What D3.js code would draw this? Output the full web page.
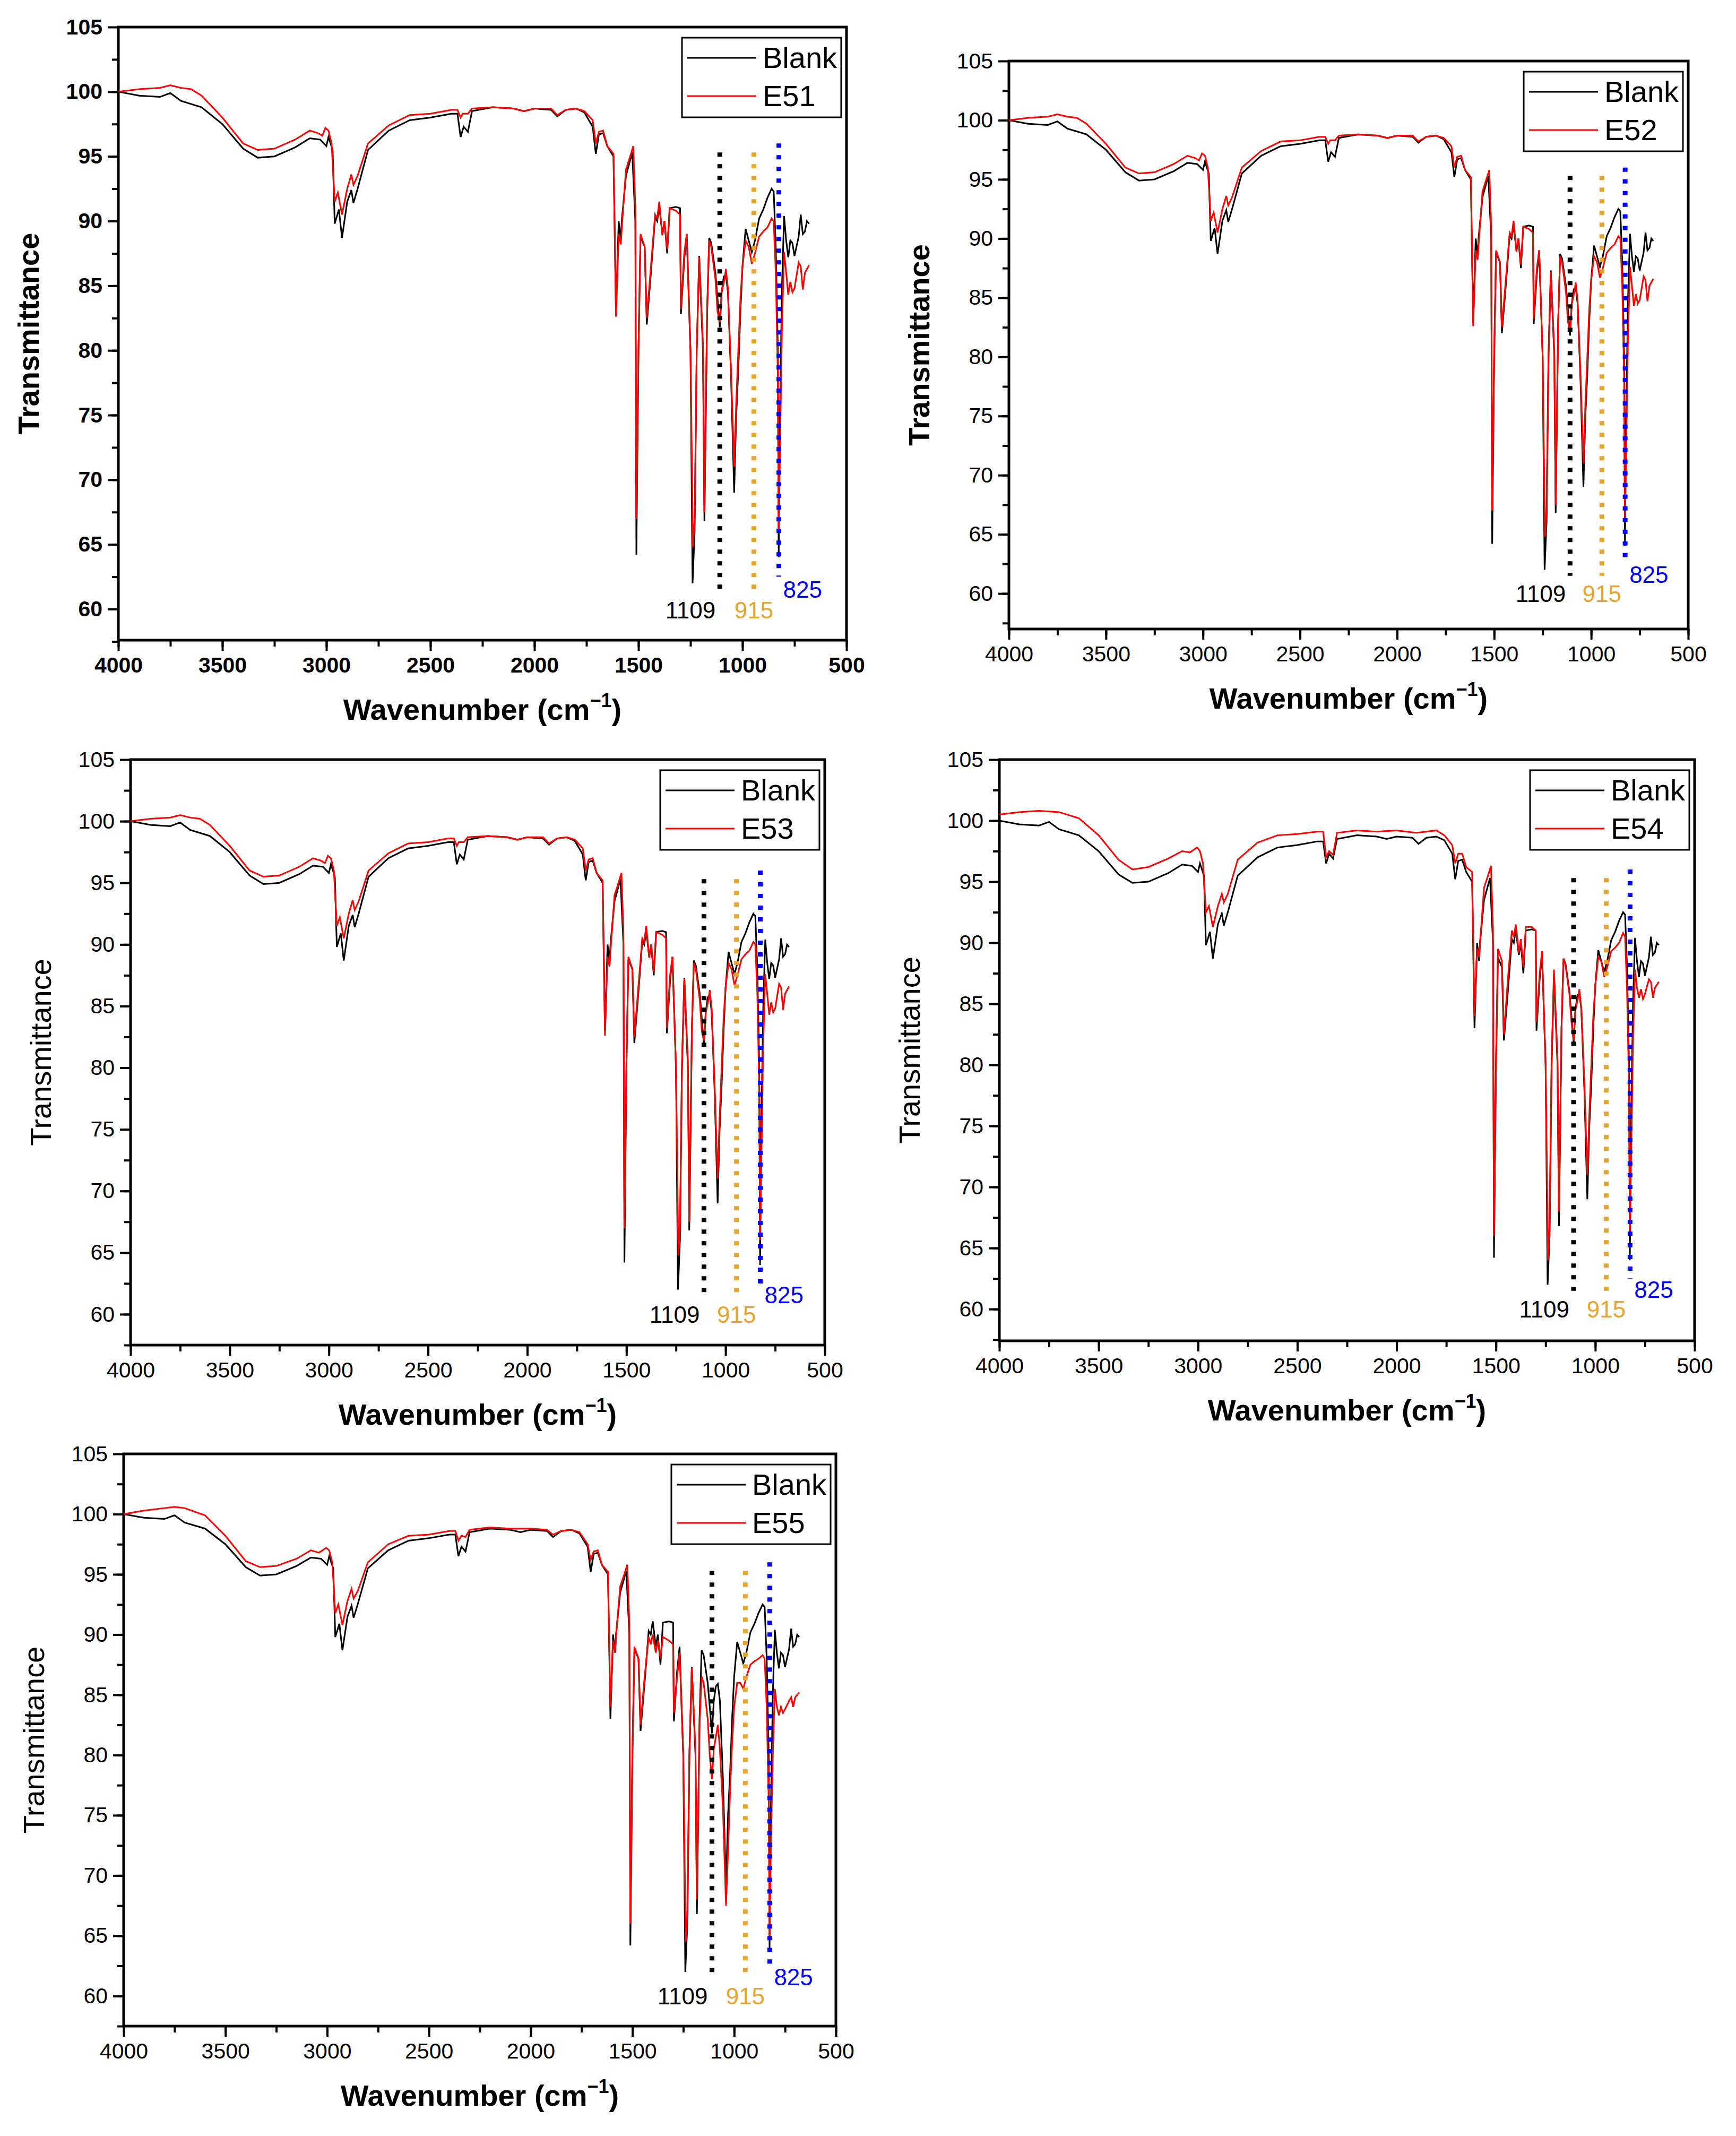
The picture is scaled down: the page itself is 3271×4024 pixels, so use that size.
<!DOCTYPE html><html><head><meta charset="utf-8"><script src="https://cdn.jsdelivr.net/npm/d3@7/dist/d3.min.js"></script>
<style>body{margin:0;background:#fff}text{font-family:Arial,"Liberation Sans",sans-serif}</style></head><body><svg id="c" width="3271" height="4024"></svg><script>
const blank=[[4000,100],[3900,99.7],[3800,99.6],[3750,99.9],[3700,99.3],[3600,98.8],[3500,97.5],[3400,95.6],[3330,94.9],[3250,95.0],[3150,95.7],[3080,96.4],[3030,96.3],[3000,95.8],[2990,96.5],[2970,95.5],[2960,89.8],[2940,90.9],[2925,88.7],[2900,91.5],[2880,92.4],[2870,91.4],[2850,92.5],[2800,95.5],[2700,97.0],[2600,97.8],[2500,98.0],[2400,98.3],[2370,98.3],[2355,96.5],[2340,97.3],[2320,96.9],[2300,98.5],[2200,98.8],[2100,98.7],[2050,98.5],[2000,98.7],[1920,98.6],[1890,98.1],[1850,98.6],[1800,98.7],[1760,98.4],[1720,97.3],[1705,95.2],[1690,96.7],[1670,96.8],[1650,95.8],[1620,95.0],[1608,83.0],[1595,90.0],[1585,88.5],[1580,90.1],[1560,93.5],[1540,94.7],[1530,95.3],[1515,90],[1510,64.2],[1500,80],[1490,88.8],[1470,88],[1460,82],[1440,86],[1420,90.3],[1410,90.0],[1400,91.1],[1385,89],[1375,90],[1362,87.5],[1350,91],[1320,91.1],[1300,91],[1296,82.8],[1280,87],[1268,89],[1250,80],[1240,62],[1230,66],[1220,80],[1208,87.3],[1190,80],[1183,66.8],[1170,83],[1160,88.7],[1150,88.3],[1130,86],[1120,84],[1109,81.8],[1100,84.5],[1090,85.7],[1080,85.9],[1070,84.5],[1055,78],[1040,69],[1030,75],[1020,78.5],[1010,83],[1000,86.5],[985,89.4],[970,88.5],[955,87.6],[940,88.5],[920,90.2],[900,90.9],[880,91.8],[860,92.5],[850,92.3],[840,88],[830,80],[826,64],[820,75],[810,85],[800,90.4],[790,88.5],[780,87.2],[770,88.5],[760,88.3],[750,87.3],[730,88.8],[720,90.5],[710,89],[700,89.2],[690,90],[680,89.8]];
const e51=[[4000,100],[3900,100.2],[3800,100.3],[3750,100.5],[3700,100.3],[3650,100.2],[3600,99.7],[3500,98],[3400,96],[3330,95.5],[3250,95.6],[3150,96.3],[3080,97],[3040,96.8],[3020,96.6],[3005,97.2],[2990,97],[2975,96],[2960,91.5],[2945,92.2],[2925,90.5],[2900,92.5],[2880,93.6],[2870,92.8],[2850,93.5],[2800,96],[2700,97.4],[2600,98.2],[2500,98.3],[2400,98.6],[2370,98.6],[2355,98],[2345,98.3],[2320,98.3],[2300,98.7],[2200,98.8],[2100,98.7],[2050,98.5],[2000,98.7],[1920,98.7],[1890,98.2],[1850,98.6],[1800,98.7],[1760,98.5],[1720,97.8],[1705,96.0],[1690,96.9],[1670,97.0],[1650,95.8],[1620,95.2],[1608,82.6],[1595,89],[1585,88.2],[1580,89.5],[1560,94],[1540,95],[1525,95.8],[1515,91],[1510,67],[1500,80],[1490,89],[1470,88],[1460,82.5],[1440,86.5],[1420,90.5],[1410,90.2],[1400,91.5],[1385,88.9],[1375,90],[1362,87.8],[1350,91],[1320,90.8],[1300,90.5],[1296,83.2],[1280,87.5],[1268,89],[1250,80],[1238,64.8],[1230,67],[1220,80],[1208,87.2],[1190,80.5],[1183,67.5],[1170,83],[1160,88.5],[1150,88],[1130,85.5],[1120,83],[1109,82.2],[1100,84.5],[1085,85.6],[1080,86.3],[1070,84.8],[1055,78.5],[1040,71],[1030,76],[1020,80],[1010,84],[1000,86.5],[985,88.5],[970,88],[955,86.7],[940,87.5],[920,88.8],[900,89.2],[880,89.5],[860,90.2],[850,90],[840,86],[830,78],[826,66],[820,72],[810,82],[800,87.6],[790,86],[780,84.3],[770,85.3],[760,84.5],[750,84.8],[730,86.8],[720,86.5],[710,84.7],[700,86],[680,86.6]];
const e54=[[4000,100.5],[3900,100.7],[3800,100.8],[3700,100.7],[3600,100.2],[3500,98.8],[3400,96.8],[3330,96.0],[3250,96.2],[3150,96.9],[3080,97.5],[3040,97.4],[3005,97.8],[2990,97.5],[2975,96.5],[2960,92.5],[2945,93.0],[2925,91.3],[2900,93.0],[2880,94.0],[2870,93.3],[2850,94.0],[2800,96.8],[2700,98.2],[2600,98.8],[2500,98.9],[2400,99.1],[2370,99.1],[2355,97.0],[2340,97.5],[2320,97.2],[2300,99.0],[2200,99.2],[2100,99.1],[2000,99.2],[1900,99.0],[1800,99.2],[1760,98.8],[1720,98.0],[1705,96.5],[1690,97.3],[1670,97.3],[1650,96.2],[1620,95.8],[1608,84],[1595,89.5],[1585,88.8],[1580,90],[1560,94.5],[1540,95.5],[1525,96.3],[1515,91],[1510,66],[1500,80],[1490,89.5],[1470,88.5],[1460,82.5],[1440,87],[1420,91],[1410,90.5],[1400,91.5],[1385,89.2],[1375,90.3],[1362,88],[1350,91.3],[1320,91.3],[1300,91],[1296,83.5],[1280,87.5],[1268,89.3],[1250,80],[1238,64],[1230,67],[1220,80],[1208,87.8],[1190,80.5],[1183,68],[1170,83],[1160,88.7],[1150,88.2],[1130,85.8],[1120,83.5],[1109,82],[1100,84.5],[1085,85.6],[1080,86.2],[1070,84.5],[1055,78.5],[1040,71],[1030,76],[1020,80],[1010,84],[1000,86.5],[985,88.8],[970,88.5],[955,87.2],[940,88],[920,89.3],[900,89.6],[880,90],[860,90.8],[850,90.5],[840,86],[830,78],[826,66],[820,72],[810,82],[800,87.8],[790,86.3],[780,85.5],[770,86.2],[760,85.4],[750,85.8],[730,87],[720,86.8],[710,85.5],[700,86.3],[680,86.8]];
const e55=[[4000,100],[3900,100.3],[3800,100.5],[3750,100.6],[3700,100.5],[3600,99.9],[3500,98.2],[3400,96.1],[3330,95.6],[3250,95.7],[3150,96.3],[3080,97],[3040,96.8],[3005,97.2],[2990,97],[2975,96],[2960,91.8],[2945,92.5],[2925,90.8],[2900,92.8],[2880,93.8],[2870,93],[2850,93.6],[2800,96],[2700,97.5],[2600,98.2],[2500,98.3],[2400,98.6],[2370,98.6],[2355,97.8],[2340,98.2],[2320,98.1],[2300,98.7],[2200,98.9],[2100,98.8],[2000,98.8],[1920,98.7],[1890,98.3],[1850,98.6],[1800,98.7],[1760,98.5],[1720,97.5],[1705,96.2],[1690,96.9],[1670,97.0],[1650,95.8],[1620,95.2],[1608,84],[1595,89.5],[1585,88.5],[1580,90],[1560,94],[1540,95],[1525,95.8],[1515,91],[1510,66],[1500,80],[1490,89],[1470,88],[1460,82.5],[1440,86.5],[1420,89.8],[1410,89.2],[1400,90],[1385,88.5],[1375,89.5],[1362,88],[1350,89.8],[1320,89.5],[1300,89.2],[1296,83.5],[1280,86.5],[1268,88.5],[1250,80],[1238,64.5],[1230,67],[1220,80],[1208,87.2],[1190,80.5],[1183,68],[1170,82.5],[1160,86.5],[1150,86],[1130,83],[1120,80],[1109,78],[1100,80.5],[1085,82],[1080,82.5],[1070,80.5],[1055,75.5],[1040,67.5],[1030,72],[1020,77],[1010,81],[1000,84],[985,86],[970,86],[955,85.5],[940,86.5],[920,87.5],[900,87.8],[880,88],[860,88.3],[850,88],[840,84],[830,76],[826,65],[820,72],[810,80],[800,85.5],[790,84],[780,83.3],[770,84],[760,83.5],[750,83.8],[730,84.5],[720,84.8],[710,84],[700,84.8],[680,85.2]];
const samples=["E51","E52","E53","E54","E55"];
const sampleData=[e51,e51,e51,e54,e55];
const markerX=[1109,945,825];
const markerLabels=["1109","915","825"];
const markerColors=["#000","#e6a32e","#0000ff"];
const xTicks=[4000,3500,3000,2500,2000,1500,1000,500];
const yTicks=[60,65,70,75,80,85,90,95,100,105];
const panels=[
 {x0:223,x1:1595,y0:51,y1:1206,ymin:57.6,bold:true},
 {x0:1901,x1:3181,y0:115,y1:1185,ymin:57.0,bold:false},
 {x0:246,x1:1554,y0:1431,y1:2534,ymin:57.5,bold:false},
 {x0:1883,x1:3193,y0:1431,y1:2526,ymin:57.4,bold:false},
 {x0:233,x1:1575,y0:2739,y1:3817,ymin:57.5,bold:false}];
const svg=d3.select("#c");
panels.forEach((p,i)=>{
 const g=svg.append("g");
 const x=d3.scaleLinear().domain([4000,500]).range([p.x0,p.x1]);
 const y=d3.scaleLinear().domain([p.ymin,105]).range([p.y1,p.y0]);
 const fw=p.bold?"bold":"normal";
 // minor ticks
 g.append("g").attr("transform",`translate(0,${p.y1})`).call(d3.axisBottom(x).tickValues(d3.range(4000,499,-250)).tickSize(12).tickFormat("")).call(a=>a.select(".domain").remove()).selectAll("line").attr("stroke-width",4);
 g.append("g").attr("transform",`translate(${p.x0},0)`).call(d3.axisLeft(y).tickValues(d3.range(57.5,105,2.5)).tickSize(12).tickFormat("")).call(a=>a.select(".domain").remove()).selectAll("line").attr("stroke-width",4);
 const ax=g.append("g").attr("transform",`translate(0,${p.y1})`).call(d3.axisBottom(x).tickValues(xTicks).tickSize(20).tickPadding(12).tickFormat(d3.format("d")));
 ax.selectAll("text").attr("font-size",41).attr("font-weight",fw).attr("fill","#000");
 ax.selectAll("line").attr("stroke-width",4);ax.select(".domain").remove();
 const ay=g.append("g").attr("transform",`translate(${p.x0},0)`).call(d3.axisLeft(y).tickValues(yTicks).tickSize(20).tickPadding(10));
 ay.selectAll("text").attr("font-size",41).attr("font-weight",fw).attr("fill","#000");
 ay.selectAll("line").attr("stroke-width",4);ay.select(".domain").remove();
 g.append("rect").attr("x",p.x0).attr("y",p.y0).attr("width",p.x1-p.x0).attr("height",p.y1-p.y0).attr("fill","none").attr("stroke","#000").attr("stroke-width",5);
 const cp="clip"+i;
 g.append("clipPath").attr("id",cp).append("rect").attr("x",p.x0).attr("y",p.y0).attr("width",p.x1-p.x0).attr("height",p.y1-p.y0);
 const line=d3.line().x(d=>x(d[0])).y(d=>y(d[1]));
 g.append("path").datum(blank).attr("d",line).attr("fill","none").attr("stroke","#000").attr("stroke-width",3).attr("clip-path",`url(#${cp})`);
 g.append("path").datum(sampleData[i]).attr("d",line).attr("fill","none").attr("stroke","#ff0000").attr("stroke-width",3).attr("clip-path",`url(#${cp})`);
 markerX.forEach((m,k)=>{
  g.append("line").attr("x1",x(m)).attr("x2",x(m)).attr("y1",y(k==2?96:95.3)).attr("y2",y(k==2?62.5:61.5)).attr("stroke",markerColors[k]).attr("stroke-width",9).attr("stroke-dasharray","8,14");
 });
 g.append("text").attr("x",x(markerX[0])-8).attr("y",y(59.3)).attr("text-anchor","end").attr("font-size",44).attr("fill",markerColors[0]).text(markerLabels[0]);
 g.append("text").attr("x",x(markerX[1])).attr("y",y(59.3)).attr("text-anchor","middle").attr("font-size",44).attr("fill",markerColors[1]).text(markerLabels[1]);
 g.append("text").attr("x",x(markerX[2])+8).attr("y",y(60.9)).attr("text-anchor","start").attr("font-size",44).attr("fill",markerColors[2]).text(markerLabels[2]);
 // legend
 const lw=300,lh=150,lx=p.x1-10-lw,ly=p.y0+20;
 g.append("rect").attr("x",lx).attr("y",ly).attr("width",lw).attr("height",lh).attr("fill","#fff").attr("stroke","#000").attr("stroke-width",3);
 [["Blank","#000"],[samples[i],"#ff0000"]].forEach((L,k)=>{
  const yy=ly+38+k*72;
  g.append("line").attr("x1",lx+10).attr("x2",lx+140).attr("y1",yy).attr("y2",yy).attr("stroke",L[1]).attr("stroke-width",3);
  g.append("text").attr("x",lx+152).attr("y",yy+19).attr("font-size",56).text(L[0]);
 });
 const t=g.append("text").attr("x",(p.x0+p.x1)/2).attr("y",p.y1+150).attr("text-anchor","middle").attr("font-size",56).attr("font-weight","bold");
 t.append("tspan").text("Wavenumber (cm");t.append("tspan").attr("font-size",36).attr("dy",-24).text("−1");t.append("tspan").attr("dy",24).text(")");
 g.append("text").attr("transform",`translate(${p.x0-150},${(p.y0+p.y1)/2}) rotate(-90)`).attr("text-anchor","middle").attr("font-size",56).attr("font-weight",i<2?"bold":"normal").text("Transmittance");
});
</script></body></html>
